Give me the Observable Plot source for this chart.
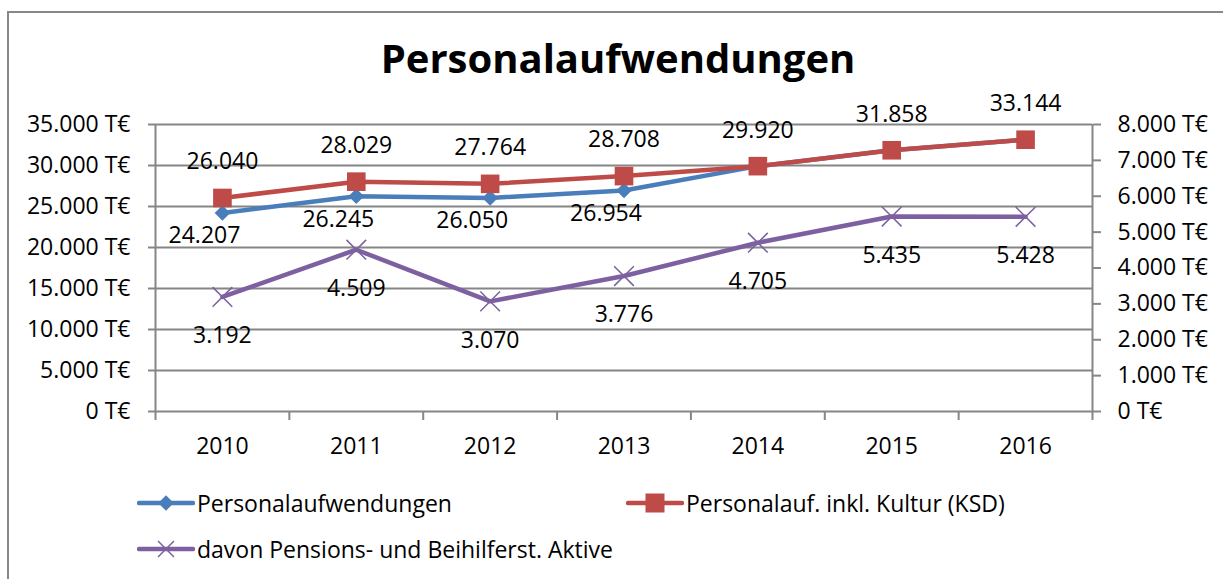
<!DOCTYPE html>
<html><head><meta charset="utf-8">
<script src="https://cdn.jsdelivr.net/npm/d3@7"></script>
<script src="https://cdn.jsdelivr.net/npm/@observablehq/plot@0.6"></script>
<style>
html,body{margin:0;padding:0;background:#fff;overflow:hidden;width:1223px;height:579px;}
body{position:relative;font-family:"Open Sans",Lato,sans-serif;color:#000;}
#frame{position:absolute;left:7px;top:11px;width:1400px;height:800px;border-left:2px solid #888;border-top:2px solid #888;box-sizing:border-box;}
#title{position:absolute;left:0;width:1236px;top:36px;text-align:center;font-weight:bold;font-size:40px;line-height:1.1;}
#chart{position:absolute;left:0;top:0;}
.leg{position:absolute;display:flex;align-items:center;font-size:23px;white-space:nowrap;}
.leg svg{display:block;margin-right:2px;}
</style></head>
<body>
<div id="frame"></div>
<div id="chart"></div>
<div id="title"></div>
<div id="legend"></div>
<script>
const titleText = "Personalaufwendungen";
const years = ["2010","2011","2012","2013","2014","2015","2016"];
const personal = [24207, 26245, 26050, 26954, 29920, 31858, 33144];
const personalKSD = [26040, 28029, 27764, 28708, 29920, 31858, 33144];
const pensionen = [3192, 4509, 3070, 3776, 4705, 5435, 5428];
const leftTicks = [0, 5000, 10000, 15000, 20000, 25000, 30000, 35000];
const rightTicks = [0, 1000, 2000, 3000, 4000, 5000, 6000, 7000, 8000];
const seriesNames = ["Personalaufwendungen", "Personalauf. inkl. Kultur (KSD)", "davon Pensions- und Beihilferst. Aktive"];
const colors = ["#4A7EBB", "#BE4B48", "#7D60A0"];

const locale = d3.formatLocale({decimal: ",", thousands: ".", grouping: [3], currency: ["", "€"]});
const fmt = locale.format(",d");
const leftMax = leftTicks[leftTicks.length - 1];
const rightMax = rightTicks[rightTicks.length - 1];
const k = leftMax / rightMax;

const blue = years.map((yr, i) => ({i, value: personal[i], y: personal[i], show: personal[i] !== personalKSD[i]}));
const red = years.map((yr, i) => ({i, value: personalKSD[i], y: personalKSD[i]}));
const purple = years.map((yr, i) => ({i, value: pensionen[i], y: pensionen[i] * k}));

document.getElementById("title").textContent = titleText;

const grid = "#868686";
const chart = Plot.plot({
  width: 1223, height: 579,
  marginTop: 124, marginBottom: 168, marginLeft: 155, marginRight: 131,
  style: {fontFamily: "'Open Sans', Lato, sans-serif", fontSize: "23px", color: "#000", background: "transparent"},
  x: {type: "linear", domain: [-0.5, years.length - 0.5], axis: null},
  y: {domain: [0, leftMax], axis: null},
  marks: [
    Plot.ruleY(leftTicks, {stroke: grid, strokeWidth: 2}),
    Plot.ruleX([-0.5, years.length - 0.5], {y1: 0, y2: leftMax, stroke: grid, strokeWidth: 2}),
    Plot.axisY({anchor: "left", ticks: leftTicks, tickSize: 7, tickPadding: 18, stroke: grid, strokeWidth: 2, tickFormat: d => fmt(d) + " T€", label: null}),
    Plot.axisY({anchor: "right", ticks: rightTicks.map(v => v * k), tickSize: 8, tickPadding: 17, stroke: grid, strokeWidth: 2, tickFormat: d => fmt(Math.round(d / k)) + " T€", label: null}),
    Plot.axisX({ticks: d3.range(-0.5, years.length, 1), tickSize: 9, stroke: grid, strokeWidth: 2, tickFormat: () => "", label: null}),
    Plot.axisX({ticks: years.map((_, i) => i), tickSize: 0, tickPadding: 26, tickFormat: i => years[i], label: null}),
    Plot.line(blue, {x: "i", y: "y", stroke: colors[0], strokeWidth: 4.5, strokeLinejoin: "round"}),
    Plot.dot(blue, {x: "i", y: "y", symbol: "square", r: 6.2, rotate: 45, fill: colors[0], stroke: "none"}),
    Plot.line(red, {x: "i", y: "y", stroke: colors[1], strokeWidth: 4.5, strokeLinejoin: "round"}),
    Plot.dot(red, {x: "i", y: "y", symbol: "square", r: 10.5, fill: colors[1], stroke: "none"}),
    Plot.line(purple, {x: "i", y: "y", stroke: colors[2], strokeWidth: 4.5, strokeLinejoin: "round"}),
    Plot.dot(purple, {x: "i", y: "y", symbol: "times", r: 9, stroke: colors[2], strokeWidth: 1.5, fill: "none"}),
    Plot.text(red, {x: "i", y: "y", text: d => fmt(d.value), dy: -36, fontSize: 23, fill: "#000"}),
    Plot.text(blue.filter(d => d.show), {x: "i", y: "y", text: d => fmt(d.value), dy: 23, dx: -18, fontSize: 23, fill: "#000"}),
    Plot.text(purple, {x: "i", y: "y", text: d => fmt(d.value), dy: 39, fontSize: 23, fill: "#000"})
  ]
});
document.getElementById("chart").appendChild(chart);

// legend
const legPos = [[137, 503], [626, 503], [137, 549]];
const legSym = ["diamond", "square", "times"];
const legend = document.getElementById("legend");
seriesNames.forEach((name, j) => {
  const div = document.createElement("div");
  div.className = "leg";
  div.style.left = legPos[j][0] + "px";
  div.style.top = (legPos[j][1] - 15) + "px";
  div.style.height = "30px";
  const c = colors[j];
  let m;
  if (legSym[j] === "diamond") m = `<rect x="23.5" y="9.5" width="11" height="11" fill="${c}" transform="rotate(45 29 15)"/>`;
  else if (legSym[j] === "square") m = `<rect x="19.5" y="5.5" width="19" height="19" fill="${c}"/>`;
  else m = `<path d="M21 7L37 23M37 7L21 23" stroke="${c}" stroke-width="1.5"/>`;
  div.innerHTML = `<svg width="58" height="30"><line x1="2" y1="15" x2="56" y2="15" stroke="${c}" stroke-width="4.5" stroke-linecap="round"/>${m}</svg><span>${name}</span>`;
  legend.appendChild(div);
});
</script>
</body></html>
